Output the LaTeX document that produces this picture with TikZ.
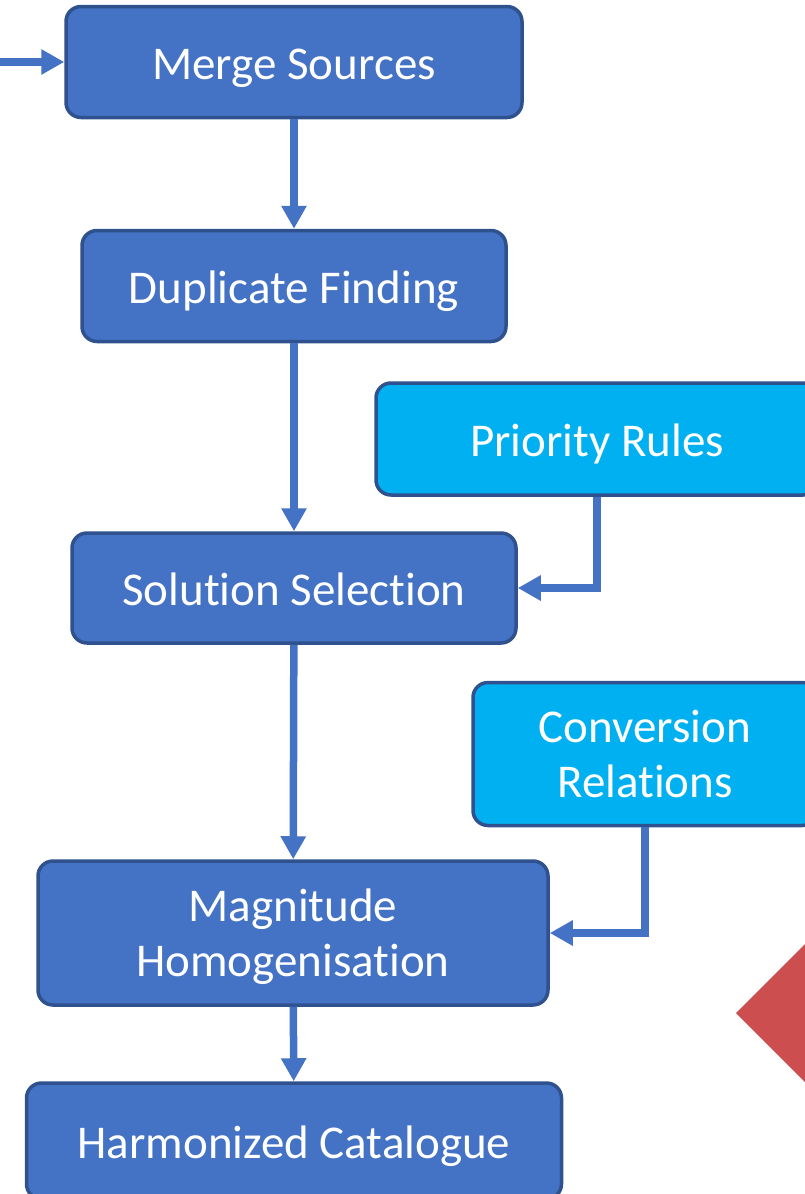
\documentclass[tikz,border=0pt]{standalone}
\usepackage{fontspec}
\setmainfont{Carlito}[Ligatures=NoCommon]
\usetikzlibrary{arrows.meta}
\definecolor{boxblue}{HTML}{4472C4}
\definecolor{boxedge}{HTML}{2F528F}
\definecolor{lightbox}{HTML}{00B0F0}
\definecolor{redshape}{HTML}{CD4E4E}
\tikzset{
  procbox/.style={draw=boxedge, fill=boxblue, line width=3.5pt, rounded corners=15pt,
    text=white, align=center, inner sep=0pt, text depth=0pt, font=\fontsize{47}{55}\selectfont},
  oneline/.style={text height=35pt},
  inputbox/.style={procbox, fill=lightbox},
  flow/.style={draw=boxblue, line width=7.5pt, -{Triangle[length=23pt,width=24pt]}}
}
\begin{document}
\begin{tikzpicture}[x=1pt,y=-1pt]
\useasboundingbox (0,0) rectangle (805,1194);
\clip (0,0) rectangle (805,1194);
% red shape
\fill[redshape] (736,1013) -- (840,909) -- (944,1013) -- (840,1117) -- cycle;
\node[procbox, oneline, minimum width=456pt, minimum height=111pt] (ms) at (294,62) {Merge Sources};
\node[procbox, oneline, minimum width=424pt, minimum height=111pt] (df) at (294,286) {Duplicate Finding};
\node[inputbox, oneline, minimum width=442pt, minimum height=112pt] (pr) at (597,439) {Priority Rules};
\node[procbox, oneline, minimum width=444pt, minimum height=110pt] (ss) at (294,588) {Solution Selection};
\node[inputbox, minimum width=344pt, minimum height=143pt] (cr) at (645,754) {Conversion\\Relations};
\node[procbox, minimum width=510pt, minimum height=144pt] (mh) at (293,933) {Magnitude\\Homogenisation};
\node[procbox, oneline, minimum width=535pt, minimum height=116pt] (hc) at (294,1141) {Harmonized Catalogue};
\coordinate (in) at (-5,62);
\draw[flow] (in) -- (ms.west);
\draw[flow] (ms) -- (df);
\draw[flow] (df) -- (ss);
\draw[flow] (pr.south) |- (ss.east);
\draw[flow] (ss) -- (mh);
\draw[flow] (cr.south) |- (mh.east);
\draw[flow] (mh) -- (hc);
\end{tikzpicture}
\end{document}
